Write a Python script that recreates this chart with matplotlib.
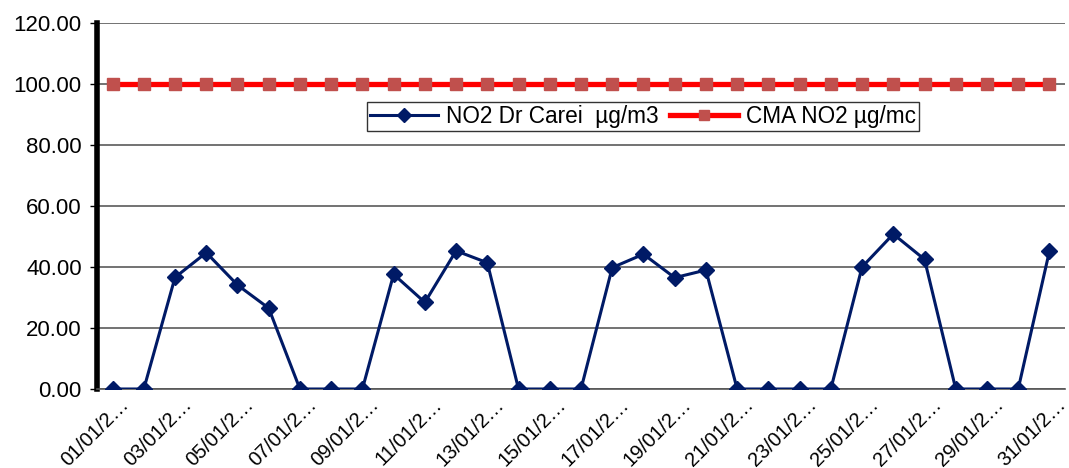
import matplotlib

matplotlib.use("Agg")
import matplotlib.pyplot as plt
import matplotlib.transforms as mtransforms
import numpy as np

plt.rcParams["font.family"] = ["Liberation Sans", "DejaVu Sans"]

# daily values, January
days = list(range(1, 32))
no2_values = [0, 0, 36.6, 44.7, 34.1, 26.5, 0, 0, 0, 37.6, 28.4, 45.3, 41.4, 0, 0, 0,
              39.8, 44.2, 36.5, 39.0, 0, 0, 0, 0, 40.0, 50.8, 42.5, 0, 0, 0, 45.2]
cma_values = [100.0] * 31
tick_labels = [f"{d:02d}/01/2\u2026" for d in days]
no2_label = "NO2 Dr Carei  \u00b5g/m3"
cma_label = "CMA NO2 \u00b5g/mc"


def main() -> None:
    fig = plt.figure(figsize=(10.69, 4.68), dpi=100)
    ax = fig.add_axes([0.0907, 0.1688, 0.9056, 0.7821])

    ax.plot(days, no2_values, color="#001a66", lw=2.2, marker="D", ms=8,
            mfc="#001a66", mec="#001a66", label=no2_label, zorder=4)
    ax.plot(days, cma_values, color="#ff0000", lw=3.8, marker="s", ms=8,
            mfc="#c0504d", mec="#c0504d", label=cma_label, zorder=3)

    ax.set_xlim(0.5, 31.5)
    ax.set_ylim(0, 120)
    ax.set_yticks(np.arange(0, 121, 20))
    ax.set_yticklabels([f"{v:.2f}" for v in range(0, 121, 20)], fontsize=16)
    ax.set_xticks(days[::2])
    ax.set_xticklabels(tick_labels[::2], rotation=45, ha="right",
                       rotation_mode="anchor", fontsize=14.5)
    ax.tick_params(axis="x", length=0, pad=4)
    ax.tick_params(axis="y", length=5, width=1, pad=6)
    # shift the slanted labels a little to the right, as in the original sheet
    shift = mtransforms.ScaledTranslation(0.07, 0, fig.dpi_scale_trans)
    for lbl in ax.get_xticklabels():
        lbl.set_transform(lbl.get_transform() + shift)

    ax.grid(axis="y", color="#5a5a5a", lw=1.2)
    ax.set_axisbelow(True)
    for side in ["top", "right"]:
        ax.spines[side].set_visible(False)
    ax.spines["left"].set_linewidth(4)
    ax.spines["bottom"].set_color("#555555")
    ax.spines["bottom"].set_linewidth(1.2)

    leg = ax.legend(loc="upper left", bbox_to_anchor=(0.279, 0.784), ncol=2,
                    fontsize=16.3, frameon=True, fancybox=False,
                    handlelength=3.0, columnspacing=0.5, handletextpad=0.35,
                    borderpad=0.13, borderaxespad=0, markerscale=0.9)
    leg.get_frame().set_edgecolor("black")
    leg.get_frame().set_linewidth(1)

    fig.savefig("out.png", dpi=100)


if __name__ == "__main__":
    main()
